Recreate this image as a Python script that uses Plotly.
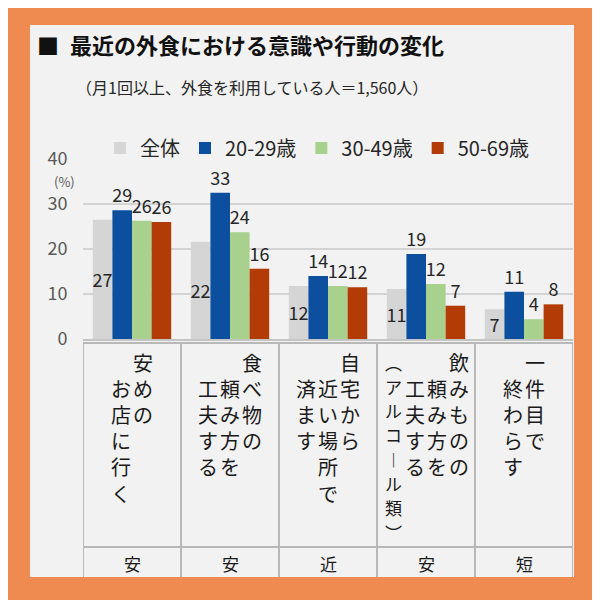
import plotly.graph_objects as go

# ---------------- data ----------------
categories = ["安めのお店に行く", "食べ物の頼み方を工夫する", "自宅から近い場所で済ます",
              "飲みものの頼み方を工夫する（アルコール類）", "一件目で終わらす"]
# vertical-writing columns, read right to left
label_columns = [
    ["安めの", "お店に行く"],
    ["食べ物の", "頼み方を", "工夫する"],
    ["自宅から", "近い場所で", "済ます"],
    ["飲みものの", "頼み方を", "工夫する", "（アルコール類）"],
    ["一件目で", "終わらす"],
]
short_labels = ["安", "安", "近", "安", "短"]

series_names = ["全体", "20-29歳", "30-49歳", "50-69歳"]
values_total = [26.5, 21.6, 11.8, 11.1, 6.6]
values_20s = [28.6, 32.5, 14.0, 18.9, 10.5]
values_30s = [26.3, 23.7, 11.8, 12.2, 4.4]
values_50s = [26.0, 15.6, 11.5, 7.4, 7.7]
labels_total = ["27", "22", "12", "11", "7"]
labels_20s = ["29", "33", "14", "19", "11"]
labels_30s = ["26", "24", "12", "12", "4"]
labels_50s = ["26", "16", "12", "7", "8"]

y_ticks = [0, 10, 20, 30, 40]
title_text = "■\u2002最近の外食における意識や行動の変化"
subtitle_text = "（月1回以上、外食を利用している人＝1,560人）"

colors = ["#d5d5d5", "#0d4f9f", "#a9d18e", "#b33c06"]
FONT = "Noto Sans CJK JP"

# ---------------- layout helpers ----------------
OFF = 8                      # page offset of the figure inside the browser window
W, H = 600, 600
L, R, T, B = 83, 573, 159, 339   # plot area in window pixels


def xp(px):
    return (px - L) / (R - L)


def yp(py):
    return (B - py) / (B - T)


fig = go.Figure()

all_vals = [values_total, values_20s, values_30s, values_50s]
all_labels = [labels_total, labels_20s, labels_30s, labels_50s]
for i, name in enumerate(series_names):
    fig.add_trace(go.Bar(
        x=categories, y=all_vals[i], name=name,
        marker=dict(color=colors[i], line=dict(width=0)),
        text=all_labels[i],
        textposition="inside" if i == 0 else "outside",
        insidetextanchor="middle",
        constraintext="none",
        cliponaxis=False,
        textfont=dict(family=FONT, size=18, color="#262626"),
        hoverinfo="skip",
    ))

shapes = []
# light panel
shapes.append(dict(type="rect", xref="paper", yref="paper",
                   x0=xp(30), x1=xp(574), y0=yp(577), y1=yp(25),
                   fillcolor="#f2f2f2", line=dict(width=0), layer="below"))
# table lines
for k in range(len(categories) + 1):
    shapes.append(dict(type="line", xref="x", yref="paper",
                       x0=k - 0.5, x1=k - 0.5, y0=yp(343), y1=yp(577),
                       line=dict(color="#b8b8b8", width=2)))
for py in (343, 547):
    shapes.append(dict(type="line", xref="x", yref="paper",
                       x0=-0.5, x1=len(categories) - 0.5, y0=yp(py), y1=yp(py),
                       line=dict(color="#b8b8b8", width=2)))

ann = []
ann.append(dict(text=title_text, xref="paper", yref="paper", x=xp(35), y=yp(44),
                xanchor="left", yanchor="middle", showarrow=False,
                font=dict(family=FONT, size=22, color="#111111", weight="bold")))
ann.append(dict(text=subtitle_text, xref="paper", yref="paper", x=xp(74), y=yp(87),
                xanchor="left", yanchor="middle", showarrow=False,
                font=dict(family=FONT, size=16, color="#262626")))
ann.append(dict(text="(%)", xref="paper", yref="paper", x=xp(64), y=yp(181),
                xanchor="center", yanchor="middle", showarrow=False,
                font=dict(family=FONT, size=13, color="#595959")))

vert_map = {"（": "︵", "）": "︶", "ー": "︱"}
COL_GAP = 22
for i, cols in enumerate(label_columns):
    n = len(cols)
    for j, col in enumerate(cols):
        xshift = ((n - 1) / 2 - j) * COL_GAP
        paren = col.startswith("（")
        for r, ch in enumerate(col):
            ch_v = vert_map.get(ch, ch)
            if paren:
                py = 362 + r * 24.3
                size = 17
            else:
                row = r if j == 0 else r + 1
                py = 362 + row * 26.2
                size = 20
            ann.append(dict(text=ch_v, x=categories[i], xref="x", xshift=xshift,
                            yref="paper", y=yp(py), xanchor="center", yanchor="middle",
                            showarrow=False,
                            font=dict(family=FONT, size=size, color="#1a1a1a")))
    ann.append(dict(text=short_labels[i], x=categories[i], xref="x", yref="paper",
                    y=yp(563), xanchor="center", yanchor="middle", showarrow=False,
                    font=dict(family=FONT, size=17, color="#1a1a1a")))

fig.update_layout(
    width=W, height=H, autosize=False,
    margin=dict(l=L - OFF, r=W - (R - OFF), t=T - OFF, b=H - (B - OFF), pad=0),
    paper_bgcolor="#ef8a51",
    plot_bgcolor="#f2f2f2",
    barmode="group", bargap=0.2, bargroupgap=0,
    font=dict(family=FONT, color="#262626"),
    showlegend=True,
    legend=dict(orientation="h", x=xp(100), xanchor="left", y=yp(148), yanchor="middle",
                bgcolor="rgba(0,0,0,0)", font=dict(family=FONT, size=20, color="#262626"),
                traceorder="normal", itemclick=False, itemdoubleclick=False),
    shapes=shapes,
    annotations=ann,
    xaxis=dict(range=[-0.5, len(categories) - 0.5], showticklabels=False, showgrid=False,
               showline=True, linecolor="#c4c4c4", linewidth=2, zeroline=False,
               fixedrange=True),
    yaxis=dict(range=[0, 40], tickvals=y_ticks, showgrid=True, gridcolor="#d3d3d3",
               gridwidth=2, zeroline=False, showline=False,
               ticks="outside", ticklen=11, tickcolor="rgba(0,0,0,0)",
               tickfont=dict(family=FONT, size=18, color="#595959"), fixedrange=True),
)

fig.write_html("out.html")
